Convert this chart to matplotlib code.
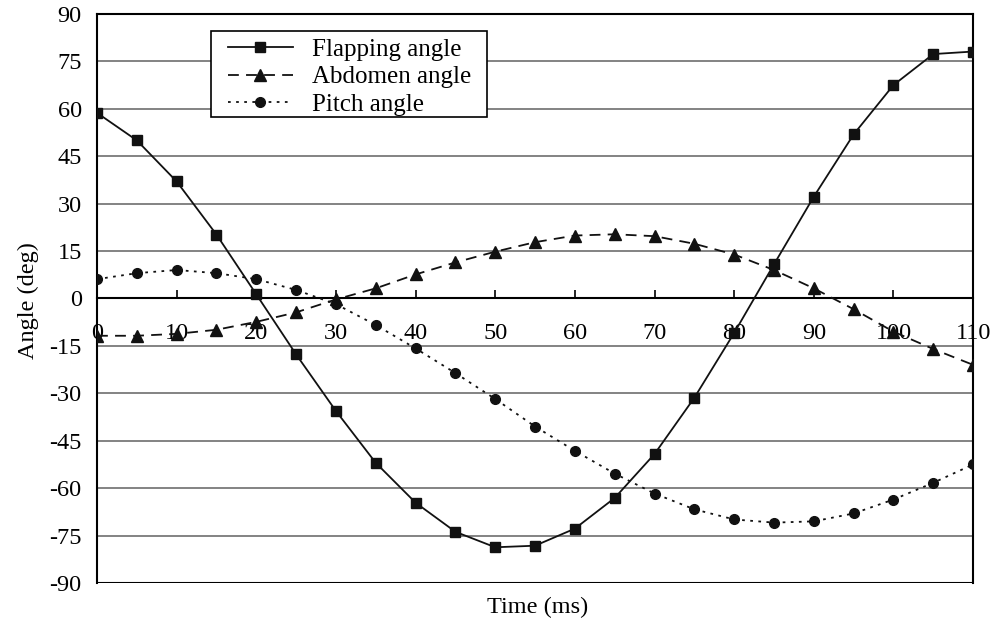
import matplotlib
matplotlib.use("Agg")
import matplotlib.pyplot as plt
from matplotlib.patches import Rectangle
import numpy as np

plt.rcParams['font.family'] = ['Liberation Serif', 'DejaVu Serif']
plt.rcParams['axes.unicode_minus'] = False

# time axis (ms)
time_ms = np.arange(0, 115, 5)

# values (deg)
flapping = [58.7, 50.0, 37.0, 20.2, 1.3, -17.7, -35.6, -52.0, -64.6, -73.8, -78.7, -78.2,
            -72.8, -63.1, -49.2, -31.4, -10.9, 10.8, 32.2, 51.9, 67.5, 77.3, 78.1]
abdomen = [-11.8, -11.8, -11.2, -9.9, -7.4, -4.4, -0.3, 3.2, 7.6, 11.4, 14.8, 17.8,
           19.9, 20.3, 19.7, 17.3, 13.9, 9.0, 3.2, -3.4, -10.5, -16.0, -21.0]
pitch = [6.1, 8.0, 9.0, 8.0, 6.1, 2.7, -1.8, -8.4, -15.8, -23.6, -31.8, -40.5,
         -48.2, -55.4, -61.7, -66.7, -69.9, -70.9, -70.5, -68.0, -63.6, -58.3, -52.5]

yticks = np.arange(-90, 91, 15)
xticks = np.arange(0, 111, 10)

fig = plt.figure(figsize=(9.95, 6.24), dpi=100)
ax = fig.add_axes([0.0975, 0.0657, 0.8805, 0.912])

# grid lines
for yv in yticks:
    ax.axhline(yv, color='#6e6e6e', lw=1.2, zorder=1)
ax.axhline(-90, color='black', lw=1.5, zorder=2)

ax.plot(time_ms, flapping, '-', color='#111111', lw=1.3, marker='s', ms=7,
        label='Flapping angle', zorder=4)
ax.plot(time_ms, abdomen, color='#111111', lw=1.3, ls=(0, (6, 4)), marker='^', ms=8,
        label='Abdomen angle', zorder=4)
ax.plot(time_ms, pitch, color='#111111', lw=1.3, ls=(0, (1.5, 3)), marker='o', ms=7,
        label='Pitch angle', zorder=4)

ax.set_xlim(0, 110)
ax.set_ylim(-90, 90)
ax.set_xticks(xticks)
ax.set_yticks(yticks)
ax.tick_params(axis='both', labelsize=17.5)
ax.tick_params(axis='x', direction='in', length=6, width=1.2, pad=18)
ax.tick_params(axis='y', length=0, pad=11)

ax.spines['bottom'].set_position(('data', 0))
for s in ax.spines.values():
    s.set_linewidth(1.5)
    s.set_color('black')

ax.set_xlabel('Time (ms)', fontsize=17.5)
ax.set_ylabel('Angle (deg)', fontsize=17.5)
ax.xaxis.set_label_coords(0.503, -0.024)
ax.yaxis.set_label_coords(-0.066, 0.497)

# legend box drawn separately so the padding matches
ax.add_patch(Rectangle((0.1301, 0.819), 0.3151, 0.151, transform=ax.transAxes,
                       facecolor='white', edgecolor='black', lw=1.2, zorder=5))
leg = ax.legend(loc='upper left', bbox_to_anchor=(0.1495, 0.957), borderaxespad=0,
                fontsize=18, frameon=False, handlelength=2.6, borderpad=0,
                labelspacing=0.2, handletextpad=0.76)
leg.set_zorder(6)

fig.savefig('out.png', dpi=100)
